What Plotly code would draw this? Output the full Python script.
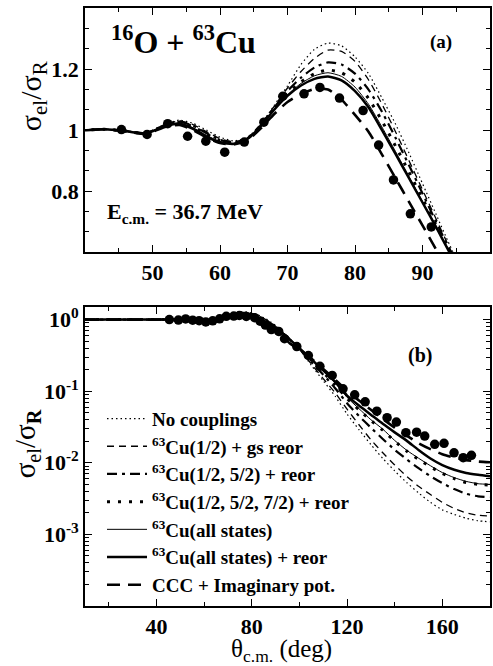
import plotly.graph_objects as go

# ---------------- data ----------------
theta_nodes = [10, 20, 30, 40, 43, 46, 49, 52, 54, 56, 58, 60, 62, 64, 66, 68, 70, 72, 74, 76,
               78, 80, 82, 84, 86, 88, 90, 92, 94, 96, 100, 105, 110, 115, 120, 125, 130, 135,
               140, 145, 150, 155, 160, 165, 170, 175, 180]

no_coupl = [1.0, 1.0, 1.0, 1.000, 1.003, 0.998, 0.992, 1.020, 1.033, 1.022, 1.000, 0.977, 0.965,
            0.975, 1.018, 1.080, 1.145, 1.215, 1.265, 1.285, 1.276, 1.240, 1.185, 1.105, 1.020,
            0.925, 0.825, 0.725, 0.625, 0.535, 0.385, 0.23, 0.14, 0.085, 0.048, 0.029, 0.018,
            0.0115, 0.0077, 0.0053, 0.0038, 0.0028, 0.0022, 0.0019, 0.00168, 0.00155, 0.0015]

cu_half_gs = [1.0, 1.0, 1.0, 1.000, 1.003, 0.997, 0.991, 1.019, 1.030, 1.018, 0.995, 0.972, 0.962,
              0.973, 1.017, 1.077, 1.138, 1.192, 1.235, 1.262, 1.258, 1.225, 1.165, 1.085, 0.995,
              0.900, 0.805, 0.710, 0.615, 0.530, 0.39, 0.24, 0.15, 0.095, 0.056, 0.034, 0.021,
              0.0138, 0.0093, 0.0065, 0.0047, 0.0036, 0.0028, 0.0023, 0.0020, 0.00185, 0.0018]

cu_half_52 = [1.0, 1.0, 1.0, 1.000, 1.003, 0.997, 0.990, 1.018, 1.028, 1.014, 0.990, 0.968, 0.960,
              0.972, 1.016, 1.073, 1.128, 1.172, 1.205, 1.222, 1.215, 1.185, 1.133, 1.060, 0.975,
              0.885, 0.793, 0.700, 0.610, 0.525, 0.39, 0.255, 0.17, 0.11, 0.068, 0.045, 0.031,
              0.0215, 0.0152, 0.0112, 0.0084, 0.0065, 0.0052, 0.0043, 0.0037, 0.0034, 0.0033]

cu_half_52_72 = [1.0, 1.0, 1.0, 1.000, 1.003, 0.997, 0.990, 1.017, 1.026, 1.011, 0.987, 0.966, 0.959,
                 0.972, 1.015, 1.070, 1.120, 1.158, 1.185, 1.197, 1.188, 1.157, 1.104, 1.030, 0.948,
                 0.862, 0.776, 0.690, 0.605, 0.525, 0.395, 0.27, 0.183, 0.123, 0.079, 0.055, 0.039,
                 0.0285, 0.020, 0.0146, 0.0112, 0.0088, 0.0071, 0.0060, 0.0053, 0.0050, 0.0049]

cu_all = [1.0, 1.0, 1.0, 1.000, 1.003, 0.997, 0.990, 1.016, 1.024, 1.008, 0.983, 0.963, 0.957,
          0.971, 1.014, 1.068, 1.116, 1.153, 1.178, 1.188, 1.176, 1.141, 1.085, 1.010, 0.930,
          0.848, 0.766, 0.685, 0.603, 0.525, 0.40, 0.278, 0.19, 0.13, 0.082, 0.057, 0.040,
          0.0295, 0.0205, 0.0150, 0.0116, 0.0091, 0.0073, 0.0062, 0.0055, 0.0051, 0.0050]

cu_all_reor = [1.0, 1.0, 1.0, 1.000, 1.003, 0.997, 0.989, 1.014, 1.021, 1.004, 0.979, 0.960, 0.955,
               0.970, 1.012, 1.066, 1.112, 1.146, 1.168, 1.176, 1.163, 1.128, 1.075, 1.000, 0.922,
               0.843, 0.763, 0.683, 0.600, 0.525, 0.40, 0.28, 0.195, 0.135, 0.087, 0.063, 0.047,
               0.035, 0.0266, 0.0204, 0.0151, 0.0115, 0.0093, 0.0080, 0.0072, 0.0068, 0.0065]

ccc_imag = [1.0, 1.0, 1.0, 1.000, 1.003, 0.996, 0.988, 1.011, 1.017, 1.000, 0.976, 0.958, 0.953,
            0.966, 1.005, 1.052, 1.092, 1.118, 1.135, 1.133, 1.100, 1.050, 0.995, 0.920, 0.843,
            0.765, 0.688, 0.610, 0.535, 0.465, 0.38, 0.285, 0.205, 0.145, 0.102, 0.074, 0.055,
            0.041, 0.031, 0.024, 0.0188, 0.0155, 0.0132, 0.0118, 0.0109, 0.0104, 0.0102]

theta_exp = [45.4, 49.2, 52.25, 55.2, 57.9, 60.7, 63.6, 66.5, 69.3, 72.45, 74.8, 77.7, 81.2, 83.5,
             85.7, 88.2, 91.3, 93.75, 98.9, 103.75, 108.6, 113.75, 118.3, 123.2, 127.6, 132.5,
             136.8, 140.7, 144.7, 149.2, 152.6, 156.8, 160.7, 164.9, 168.75, 172.2]
sigma_exp = [1.002, 0.986, 1.021, 0.980, 0.964, 0.928, 0.961, 1.026, 1.111, 1.119, 1.140, 1.105,
             1.064, 0.951, 0.837, 0.726, 0.683, 0.54, 0.42, 0.315, 0.223, 0.166, 0.108, 0.089,
             0.071, 0.0526, 0.0426, 0.037, 0.0263, 0.0268, 0.0236, 0.0181, 0.0187, 0.0138,
             0.0118, 0.0127]

labels = ["No couplings",
          "<sup>63</sup>Cu(1/2) + gs reor",
          "<sup>63</sup>Cu(1/2, 5/2) + reor",
          "<sup>63</sup>Cu(1/2, 5/2, 7/2) + reor",
          "<sup>63</sup>Cu(all states)",
          "<sup>63</sup>Cu(all states) + reor",
          "CCC + Imaginary pot."]
series = [no_coupl, cu_half_gs, cu_half_52, cu_half_52_72, cu_all, cu_all_reor, ccc_imag]
styles = [dict(width=1.2, dash="1.5px,3px"),
          dict(width=1.3, dash="7px,5px"),
          dict(width=2.2, dash="10px,5px,3px,5px"),
          dict(width=3, dash="3px,8px"),
          dict(width=1, dash="solid"),
          dict(width=2.5, dash="solid"),
          dict(width=2.6, dash="13px,8px")]

SERIF = "Liberation Serif"
fig = go.Figure()

for panel, (xa, ya) in enumerate([("x", "y"), ("x2", "y2")]):
    for lab, vals, st in zip(labels, series, styles):
        fig.add_trace(go.Scatter(
            x=theta_nodes, y=vals, mode="lines", name=lab,
            line=dict(color="black", shape="spline", smoothing=0.6, **st),
            xaxis=xa, yaxis=ya, showlegend=(panel == 1)))
    fig.add_trace(go.Scatter(
        x=theta_exp, y=sigma_exp, mode="markers", name="data",
        marker=dict(color="black", size=9.5), xaxis=xa, yaxis=ya, showlegend=False))

tickfont = dict(family=SERIF, size=22, color="black", weight="bold")
common_ax = dict(showline=True, linecolor="black", linewidth=1.6, mirror="ticks",
                 ticks="inside", ticklen=7, tickwidth=1.4, tickcolor="black",
                 showgrid=False, zeroline=False, tickfont=tickfont)

fig.update_layout(
    width=493, height=666,
    margin=dict(l=85, r=1, t=8, b=60),
    paper_bgcolor="white", plot_bgcolor="white",
    font=dict(family=SERIF, color="black"),
    xaxis=dict(domain=[0, 1], anchor="y", range=[40, 100],
               tickvals=[50, 60, 70, 80, 90],
               minor=dict(ticks="inside", ticklen=4, tickwidth=1.2, dtick=5, tick0=0,
                          tickcolor="black", showgrid=False),
               **common_ax),
    yaxis=dict(domain=[0.5915, 1], anchor="x", range=[0.6, 1.4],
               tickvals=[0.8, 1.0, 1.2], ticktext=["0.8", "1", "1.2"],
               minor=dict(ticks="inside", ticklen=4, tickwidth=1.2, dtick=0.2 / 3, tick0=0.6,
                          tickcolor="black", showgrid=False),
               **common_ax),
    xaxis2=dict(domain=[0, 1], anchor="y2", range=[10, 180],
                tickvals=[40, 80, 120, 160],
                minor=dict(ticks="inside", ticklen=4, tickwidth=1.2, dtick=20, tick0=0,
                           tickcolor="black", showgrid=False),
                **common_ax),
    yaxis2=dict(domain=[0, 0.5005], anchor="x2", type="log", range=[-4, 0.18],
                tickvals=[1, 0.1, 0.01, 0.001],
                ticktext=["10<sup>0</sup>", "10<sup>-1</sup>", "10<sup>-2</sup>", "10<sup>-3</sup>"],
                minor=dict(ticks="inside", ticklen=4, tickwidth=1.2, dtick="D1",
                           tickcolor="black", showgrid=False),
                **common_ax),
    legend=dict(x=0.042, y=0.345, xanchor="left", yanchor="top",
                bgcolor="rgba(0,0,0,0)", borderwidth=0, itemwidth=40,
                font=dict(family=SERIF, size=19, color="black", weight="bold"),
                tracegroupgap=0),
)

ann = [
    dict(text="<sup>16</sup>O + <sup>63</sup>Cu", xref="x domain", yref="y domain",
         x=0.06, y=0.87, xanchor="left", yanchor="middle",
         font=dict(family=SERIF, size=32, weight="bold")),
    dict(text="(a)", xref="x domain", yref="y domain", x=0.878, y=0.862,
         xanchor="center", yanchor="middle", font=dict(family=SERIF, size=19, weight="bold")),
    dict(text="E<sub>c.m.</sub> = 36.7 MeV", xref="x domain", yref="y domain",
         x=0.049, y=0.16, xanchor="left", yanchor="middle",
         font=dict(family=SERIF, size=22, weight="bold")),
    dict(text="(b)", xref="x2 domain", yref="y2 domain", x=0.826, y=0.838,
         xanchor="center", yanchor="middle", font=dict(family=SERIF, size=20, weight="bold")),
    dict(text="σ<sub>el</sub>/σ<sub>R</sub>", xref="x domain", yref="y domain",
         x=0, y=0.5, xshift=-52, yshift=34, textangle=-90, xanchor="center", yanchor="middle",
         font=dict(family=SERIF, size=30)),
    dict(text="σ<sub>el</sub>/σ<sub><b>R</b></sub>", xref="x2 domain", yref="y2 domain",
         x=0, y=0.5, xshift=-58, yshift=12, textangle=-90, xanchor="center", yanchor="middle",
         font=dict(family=SERIF, size=29)),
    dict(text="θ<sub>c.m.</sub> (deg)", xref="x2 domain", yref="y2 domain",
         x=0.485, y=0, yshift=-44, xanchor="center", yanchor="middle",
         font=dict(family=SERIF, size=25)),
]
for a in ann:
    a["showarrow"] = False
    fig.add_annotation(**a)

fig.write_html("out.html")
